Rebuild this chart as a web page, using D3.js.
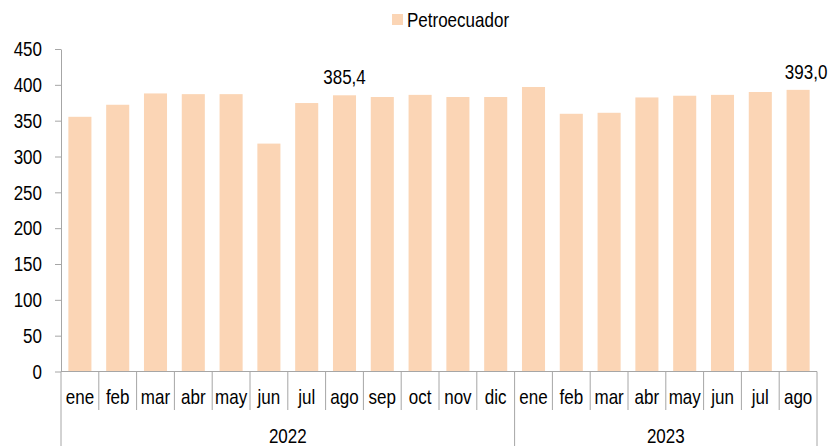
<!DOCTYPE html>
<html>
<head>
<meta charset="utf-8">
<script src="https://cdn.jsdelivr.net/npm/d3@7"></script>
<style>
  body { margin: 0; background: #fff; }
  svg text { font-family: "Liberation Sans Narrow", "Arial Narrow", "Liberation Sans", sans-serif; fill: #000; font-size: 21px; }
  .axis path, .axis line { stroke: #a6a6a6; }
</style>
</head>
<body>
<svg id="chart" width="833" height="446"></svg>
<script>
// data
var months = ["ene","feb","mar","abr","may","jun","jul","ago","sep","oct","nov","dic",
              "ene","feb","mar","abr","may","jun","jul","ago"]
var years = ["2022","2023"]
var yearCounts = [12, 8]
var petroecuador = [355.4, 372.2, 388.0, 387.0, 387.0, 318.0, 374.6, 385.4, 383.0, 386.0, 383.0, 383.0,
                    397.0, 359.6, 361.0, 382.4, 384.8, 386.0, 390.0, 393.0]
var labelled = { 7: "385,4", 19: "393,0" }
var yTicks = [0, 50, 100, 150, 200, 250, 300, 350, 400, 450]

var mLeft = 61, mRight = 817, mTop = 49, mBottom = 371.5
var SX = 0.81 // narrow font look

// place a text at (x,y) squeezed horizontally
function squeeze(sel, fx, fy) {
  sel.attr("transform", function (d, i) {
    return "translate(" + fx(d, i) + "," + fy(d, i) + ") scale(" + SX + ",1)"
  })
}

var svg = d3.select("#chart")

var idx = d3.range(months.length)
var x = d3.scaleBand().domain(idx).range([mLeft, mRight]).paddingInner(0.39).paddingOuter(0.195)
var y = d3.scaleLinear().domain([0, 450]).range([mBottom, mTop])

// bars
svg.append("g").selectAll("rect")
  .data(idx)
  .enter().append("rect")
  .attr("x", function (i) { return x(i) })
  .attr("y", function (i) { return y(petroecuador[i]) })
  .attr("width", x.bandwidth())
  .attr("height", function (i) { return y(0) - y(petroecuador[i]) })
  .attr("fill", "#fbd5b5")

// value labels
svg.append("g").selectAll("text")
  .data(Object.keys(labelled).map(Number))
  .enter().append("text")
  .attr("text-anchor", "middle")
  .call(squeeze,
    function (i) { return x(i) + x.bandwidth() / 2 + (i == 19 ? 8 : 0) },
    function (i) { return y(petroecuador[i]) - 11 })
  .text(function (i) { return labelled[i] })

// y axis
var yAxis = svg.append("g")
  .attr("class", "axis")
  .attr("transform", "translate(" + mLeft + ",0)")
  .call(d3.axisLeft(y).tickValues(yTicks).tickSize(6).tickPadding(19).tickSizeOuter(0))
yAxis.selectAll("text")
  .attr("x", -19 / SX)
  .attr("transform", "scale(" + SX + ",1)")

// x axis line + category separators
var step = x.step()
var xg = svg.append("g").attr("class", "axis")
xg.append("line")
  .attr("x1", mLeft).attr("x2", mRight).attr("y1", mBottom).attr("y2", mBottom)
xg.selectAll(".sep")
  .data(d3.range(months.length + 1))
  .enter().append("line")
  .attr("class", "sep")
  .attr("x1", function (i) { return mLeft + i * step })
  .attr("x2", function (i) { return mLeft + i * step })
  .attr("y1", mBottom)
  .attr("y2", 410)

xg.selectAll(".month")
  .data(idx)
  .enter().append("text")
  .attr("class", "month")
  .attr("text-anchor", "middle")
  .call(squeeze, function (i) { return x(i) + x.bandwidth() / 2 }, function () { return 404 })
  .text(function (i) { return months[i] })

// year group separators and labels
var bounds = [0]
yearCounts.forEach(function (c, k) { bounds.push(bounds[k] + c) })
xg.selectAll(".ysep")
  .data(bounds)
  .enter().append("line")
  .attr("class", "ysep")
  .attr("x1", function (b) { return mLeft + b * step })
  .attr("x2", function (b) { return mLeft + b * step })
  .attr("y1", 410)
  .attr("y2", 446)
xg.selectAll(".year")
  .data(years)
  .enter().append("text")
  .attr("class", "year")
  .attr("text-anchor", "middle")
  .call(squeeze, function (d, k) { return mLeft + (bounds[k] + bounds[k + 1]) / 2 * step }, function () { return 443 })
  .text(function (d) { return d })

// legend
var lg = svg.append("g").attr("transform", "translate(392,14)")
lg.append("rect").attr("width", 11).attr("height", 11).attr("fill", "#fbd5b5")
lg.append("text").attr("transform", "translate(15,13) scale(" + SX + ",1)").text("Petroecuador")
</script>
</body>
</html>
